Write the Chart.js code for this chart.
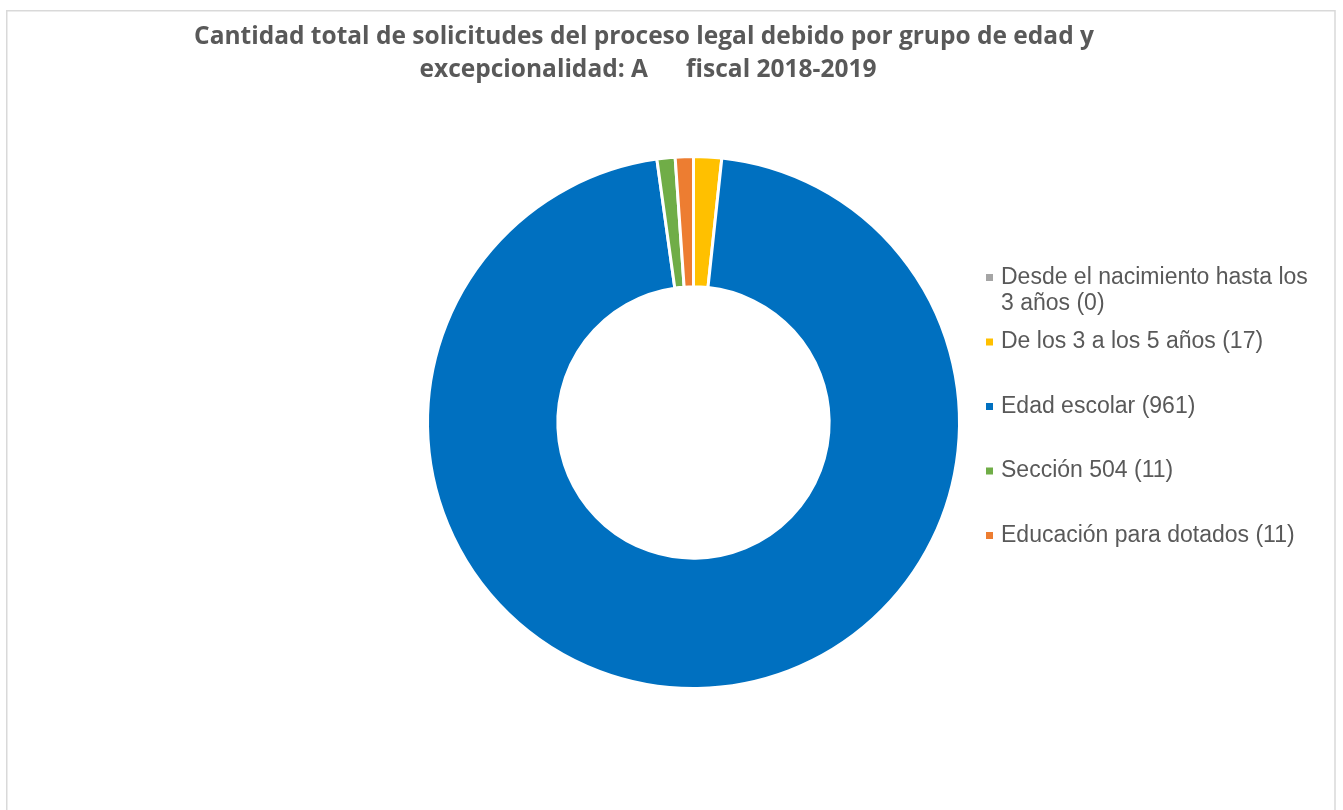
<!DOCTYPE html>
<html lang="es">
<head>
<meta charset="utf-8">
<title>Solicitudes del proceso legal debido</title>
<script src="https://cdn.jsdelivr.net/npm/chart.js@4.4.1/dist/chart.umd.min.js"></script>
<style>
    html, body { margin: 0; padding: 0; background: #ffffff; }
    #chart-container { position: relative; width: 1343px; height: 810px; }
</style>
</head>
<body>
<div id="chart-container">
    <canvas id="donut-chart"></canvas>
</div>
<script>
// Datos del gráfico
const categories = [
    'Desde el nacimiento hasta los 3 años',
    'De los 3 a los 5 años',
    'Edad escolar',
    'Sección 504',
    'Educación para dotados'
];
const solicitudes = [0, 17, 961, 11, 11];
const colores = ['#A5A5A5', '#FFC000', '#0070C0', '#70AD47', '#ED7D31'];
const tituloLineas = [
    'Cantidad total de solicitudes del proceso legal debido por grupo de edad y',
    'excepcionalidad: A      fiscal 2018-2019'
];

const textColor = '#595959';

// Marco gris alrededor del gráfico
const framePlugin = {
    id: 'frame',
    beforeDraw(chart) {
        const c = chart.ctx;
        c.save();
        c.fillStyle = '#ffffff';
        c.fillRect(0, 0, chart.width, chart.height);
        c.strokeStyle = '#d9d9d9';
        c.lineWidth = 1.5;
        c.strokeRect(6.75, 10.75, 1328.25, 900);
        c.restore();
    }
};

// Título centrado en dos líneas
const titlePlugin = {
    id: 'titulo',
    afterDraw(chart) {
        const c = chart.ctx;
        c.save();
        c.fillStyle = textColor;
        c.textAlign = 'center';
        c.textBaseline = 'alphabetic';
        c.font = 'bold 24.5px "Open Sans"';
        c.fillText(tituloLineas[0], 644, 44);
        c.fillText(tituloLineas[1], 648, 77);
        c.restore();
    }
};

// Partir un texto en líneas según un ancho máximo
function wrapText(c, text, maxWidth) {
    const words = text.split(' ');
    const lines = [];
    let line = '';
    words.forEach(word => {
        const test = line ? line + ' ' + word : word;
        if (c.measureText(test).width > maxWidth && line) {
            lines.push(line);
            line = word;
        } else {
            line = test;
        }
    });
    if (line) lines.push(line);
    return lines;
}

// Leyenda a la derecha
const legendPlugin = {
    id: 'leyenda',
    afterDraw(chart) {
        const c = chart.ctx;
        const ds = chart.data.datasets[0];
        const x0 = 986;
        const y0 = 277.5;
        const step = 64.5;
        const lineHeight = 26;
        c.save();
        c.font = '23px "Liberation Sans", Arial, sans-serif';
        c.textBaseline = 'middle';
        c.textAlign = 'left';
        chart.data.labels.forEach((label, i) => {
            const y = y0 + i * step;
            c.fillStyle = ds.backgroundColor[i];
            c.fillRect(x0, y - 3.5, 7, 7);
            c.fillStyle = textColor;
            const lines = wrapText(c, `${label} (${ds.data[i]})`, 322);
            lines.forEach((ln, j) => {
                c.fillText(ln, x0 + 15, y + j * lineHeight);
            });
        });
        c.restore();
    }
};

const ctx = document.getElementById('donut-chart').getContext('2d');

const donutChart = new Chart(ctx, {
    type: 'doughnut',
    data: {
        labels: categories,
        datasets: [{
            data: solicitudes,
            backgroundColor: colores,
            borderColor: '#ffffff',
            borderWidth: 3,
            hoverOffset: 0
        }]
    },
    options: {
        responsive: true,
        maintainAspectRatio: false,
        animation: false,
        radius: 266,
        cutout: '51%',
        layout: {
            padding: { left: 44, right: 0, top: 135, bottom: 100 }
        },
        plugins: {
            legend: { display: false },
            title: { display: false },
            tooltip: { enabled: false }
        }
    },
    plugins: [framePlugin, titlePlugin, legendPlugin]
});
</script>
</body>
</html>
